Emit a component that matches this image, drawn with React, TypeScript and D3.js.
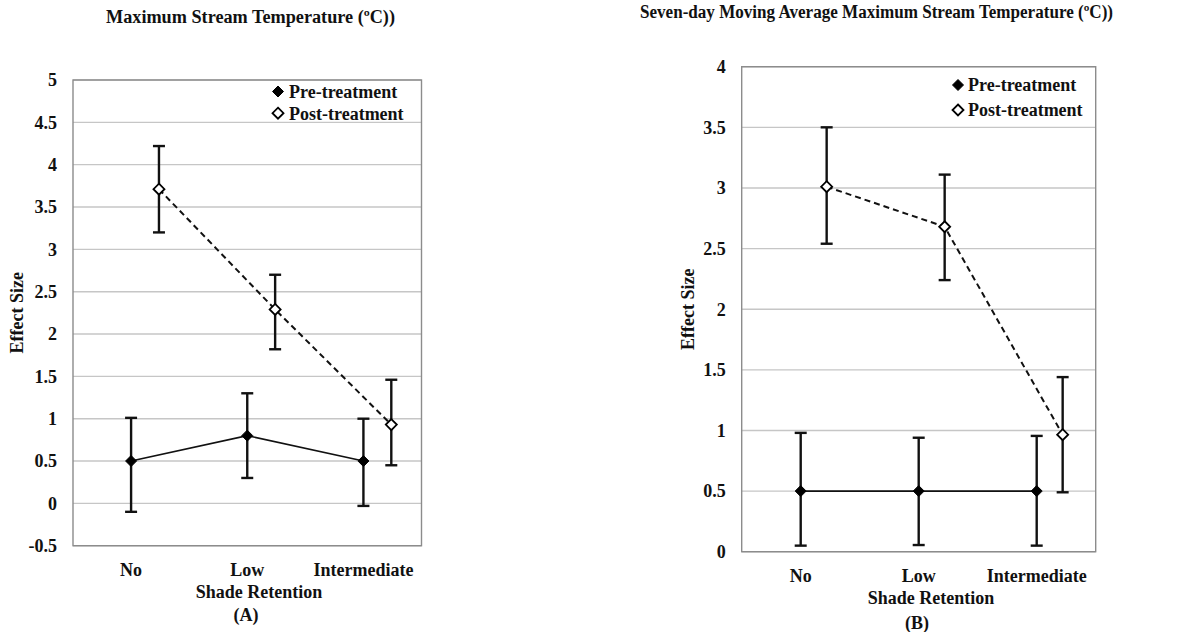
import React from "react";
import * as d3 from "d3";

// Shade-retention categories shared by both panels
const categories = ["No", "Low", "Intermediate"];

// Panel A: maximum stream temperature effect sizes (mean, lower, upper)
const preA = [0.5, 0.8, 0.5];
const preALo = [-0.1, 0.3, -0.03];
const preAHi = [1.01, 1.3, 1.0];
const postA = [3.71, 2.29, 0.93];
const postALo = [3.2, 1.82, 0.45];
const postAHi = [4.22, 2.7, 1.46];
const ticksA = [-0.5, 0, 0.5, 1, 1.5, 2, 2.5, 3, 3.5, 4, 4.5, 5];

// Panel B: seven-day moving average maximum stream temperature
const preB = [0.5, 0.5, 0.5];
const preBLo = [0.05, 0.055, 0.05];
const preBHi = [0.98, 0.94, 0.955];
const postB = [3.01, 2.68, 0.965];
const postBLo = [2.54, 2.24, 0.49];
const postBHi = [3.5, 3.11, 1.44];
const ticksB = [0, 0.5, 1, 1.5, 2, 2.5, 3, 3.5, 4];

const seriesNames = ["Pre-treatment", "Post-treatment"];

const FONT = "'Liberation Serif', 'Times New Roman', serif";

type Series = { mean: number[]; lo: number[]; hi: number[] };

type PanelProps = {
  left: number;
  right: number;
  top: number;
  bottom: number;
  ticks: number[];
  pre: Series;
  post: Series;
  postShift: number;
  title: string;
  titleX: number;
  titleY: number;
  titleW: number;
  label: string;
  axisTitleX: number;
  axisTitleY: number;
  tagX: number;
  tagY: number;
  yTitleX: number;
  tickLabelY: number;
  legendX: number;
  legendY: number;
  legendGap: number;
  legendTextDx: number;
};

function Diamond({ x, y, filled }: { x: number; y: number; filled: boolean }) {
  const r = 5.5;
  const d = `M${x},${y - r}L${x + r},${y}L${x},${y + r}L${x - r},${y}Z`;
  return (
    <path
      d={d}
      fill={filled ? "#000" : "#fff"}
      stroke="#000"
      strokeWidth={filled ? 1 : 1.8}
    />
  );
}

function Panel(p: PanelProps) {
  const y = d3
    .scaleLinear()
    .domain([p.ticks[0], p.ticks[p.ticks.length - 1]])
    .range([p.bottom, p.top]);
  const x = d3.scalePoint<string>().domain(categories).range([p.left, p.right]).padding(0.5);
  const step = x.step();
  const px = (c: string) => x(c) as number;
  const postX = (c: string) => px(c) + step * p.postShift;

  const preLine = d3
    .line<number>()
    .x((_, i) => px(categories[i]))
    .y((v) => y(v));
  const postLine = d3
    .line<number>()
    .x((_, i) => postX(categories[i]))
    .y((v) => y(v));

  const errBars = (s: Series, xf: (c: string) => number, key: string) =>
    categories.map((c, i) => {
      const cx = xf(c);
      const capW = 6;
      return (
        <g key={key + c} stroke="#111" strokeWidth={2.4}>
          <line x1={cx} x2={cx} y1={y(s.lo[i])} y2={y(s.hi[i])} />
          <line x1={cx - capW} x2={cx + capW} y1={y(s.hi[i])} y2={y(s.hi[i])} />
          <line x1={cx - capW} x2={cx + capW} y1={y(s.lo[i])} y2={y(s.lo[i])} />
        </g>
      );
    });

  return (
    <g fontFamily={FONT} fontWeight="bold" fill="#111">
      <text
        x={p.titleX}
        y={p.titleY}
        fontSize={18}
        textAnchor="middle"
        textLength={p.titleW}
        lengthAdjust="spacingAndGlyphs"
      >
        {p.title}
      </text>

      {/* gridlines */}
      {p.ticks.map((t) => (
        <line
          key={"g" + t}
          x1={p.left}
          x2={p.right}
          y1={y(t)}
          y2={y(t)}
          stroke="#c6c6c6"
          strokeWidth={1.4}
        />
      ))}
      {/* plot frame */}
      <rect
        x={p.left}
        y={p.top}
        width={p.right - p.left}
        height={p.bottom - p.top}
        fill="none"
        stroke="#8c8c8c"
        strokeWidth={1.4}
      />

      {/* y tick labels */}
      {p.ticks.map((t) => (
        <text
          key={"t" + t}
          x={p.left - 16}
          y={y(t)}
          dy="0.35em"
          fontSize={18}
          textAnchor="end"
        >
          {String(t)}
        </text>
      ))}

      {/* category labels */}
      {categories.map((c) => (
        <text key={"c" + c} x={px(c)} y={p.tickLabelY} fontSize={18} textAnchor="middle">
          {c}
        </text>
      ))}
      <text x={p.axisTitleX} y={p.axisTitleY} fontSize={18} textAnchor="middle">
        {"Shade Retention"}
      </text>
      <text x={p.tagX} y={p.tagY} fontSize={18} textAnchor="middle">
        {p.label}
      </text>
      <text
        transform={`translate(${p.yTitleX},${(p.top + p.bottom) / 2}) rotate(-90)`}
        fontSize={18}
        textAnchor="middle"
        dy="0.35em"
      >
        {"Effect Size"}
      </text>

      {/* series lines */}
      <path d={preLine(p.pre.mean) || ""} fill="none" stroke="#111" strokeWidth={1.6} />
      <path
        d={postLine(p.post.mean) || ""}
        fill="none"
        stroke="#111"
        strokeWidth={2}
        strokeDasharray="6,4"
      />

      {errBars(p.pre, px, "pre")}
      {errBars(p.post, postX, "post")}

      {categories.map((c, i) => (
        <Diamond key={"pm" + c} x={px(c)} y={y(p.pre.mean[i])} filled />
      ))}
      {categories.map((c, i) => (
        <Diamond key={"qm" + c} x={postX(c)} y={y(p.post.mean[i])} filled={false} />
      ))}

      {/* legend */}
      {seriesNames.map((n, i) => (
        <g key={n}>
          <Diamond x={p.legendX} y={p.legendY + i * p.legendGap} filled={i === 0} />
          <text
            x={p.legendX + p.legendTextDx}
            y={p.legendY + i * p.legendGap}
            dy="0.35em"
            fontSize={18}
          >
            {n}
          </text>
        </g>
      ))}
    </g>
  );
}

export default function App() {
  return (
    <svg
      width={1190}
      height={632}
      style={{ position: "absolute", left: 0, top: 0, background: "#fff" }}
    >
      <rect width={1190} height={632} fill="#fff" />
      <Panel
        left={73}
        right={421.5}
        top={80}
        bottom={545.7}
        ticks={ticksA}
        pre={{ mean: preA, lo: preALo, hi: preAHi }}
        post={{ mean: postA, lo: postALo, hi: postAHi }}
        postShift={0.24}
        title="Maximum Stream Temperature (ºC))"
        titleX={250.5}
        titleY={23}
        titleW={289}
        label="(A)"
        axisTitleX={259}
        axisTitleY={598}
        tagX={246}
        tagY={621}
        yTitleX={17}
        tickLabelY={576}
        legendX={278}
        legendY={91.5}
        legendGap={21.7}
        legendTextDx={11}
      />
      <Panel
        left={741.7}
        right={1095.7}
        top={66.7}
        bottom={551.7}
        ticks={ticksB}
        pre={{ mean: preB, lo: preBLo, hi: preBHi }}
        post={{ mean: postB, lo: postBLo, hi: postBHi }}
        postShift={0.22}
        title="Seven-day Moving Average Maximum Stream Temperature (ºC))"
        titleX={876.5}
        titleY={18}
        titleW={473}
        label="(B)"
        axisTitleX={931}
        axisTitleY={604}
        tagX={917}
        tagY={629}
        yTitleX={688}
        tickLabelY={582}
        legendX={958}
        legendY={85}
        legendGap={25}
        legendTextDx={10}
      />
    </svg>
  );
}
